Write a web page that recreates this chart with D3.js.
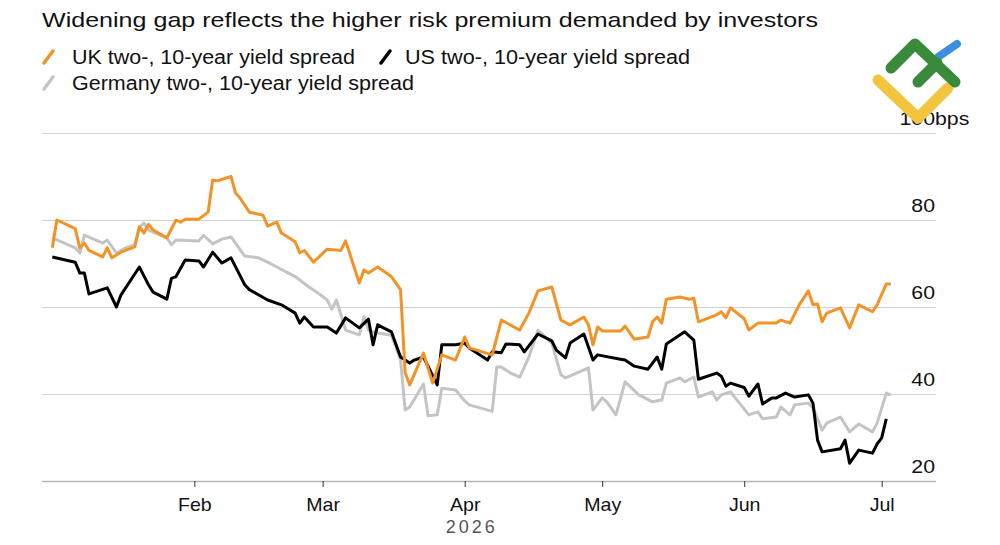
<!DOCTYPE html>
<html>
<head>
<meta charset="utf-8">
<script src="https://cdn.jsdelivr.net/npm/d3@7"></script>
<style>
  body { margin: 0; background: #fff; }
  svg { display: block; font-family: "Liberation Sans", Arial, sans-serif; }
</style>
</head>
<body>
<svg id="chart" width="1000" height="545"></svg>
<script>
var title = "Widening gap reflects the higher risk premium demanded by investors";
var seriesNames = ["UK two-, 10-year yield spread", "US two-, 10-year yield spread", "Germany two-, 10-year yield spread"];
var seriesColors = ["#f39326", "#000000", "#c4c4c4"];
var yTicks = [20, 40, 60, 80, 100];
var monthTicks = ["2026-02-01", "2026-03-01", "2026-04-01", "2026-05-01", "2026-06-01", "2026-07-01"];
var yearLabel = "2026";

// values, bps
var ukSpread = [
  ["2026-01-01", 73.6], ["2026-01-02", 80], ["2026-01-06", 78], ["2026-01-07", 73.6], ["2026-01-08", 74.7],
  ["2026-01-09", 73], ["2026-01-12", 71.5], ["2026-01-13", 73.6], ["2026-01-14", 71.3], ["2026-01-16", 72.6],
  ["2026-01-19", 73.8], ["2026-01-20", 78.4], ["2026-01-21", 77], ["2026-01-22", 79], ["2026-01-23", 77.7],
  ["2026-01-26", 75.9], ["2026-01-28", 80], ["2026-01-29", 79.5], ["2026-01-30", 80.2], ["2026-02-02", 80.2],
  ["2026-02-04", 81.8], ["2026-02-05", 89.2], ["2026-02-06", 89], ["2026-02-09", 90], ["2026-02-10", 86.2],
  ["2026-02-11", 85], ["2026-02-13", 81.8], ["2026-02-16", 81.1], ["2026-02-17", 78.6], ["2026-02-19", 79.5],
  ["2026-02-20", 77], ["2026-02-23", 75], ["2026-02-24", 72.4], ["2026-02-25", 73], ["2026-02-27", 70.3],
  ["2026-03-02", 73.3], ["2026-03-05", 73], ["2026-03-06", 75.2], ["2026-03-09", 65.5], ["2026-03-10", 68.5],
  ["2026-03-11", 67.8], ["2026-03-13", 69.2], ["2026-03-16", 67], ["2026-03-18", 64], ["2026-03-19", 44.9],
  ["2026-03-20", 42.1], ["2026-03-23", 49.4], ["2026-03-25", 42.5], ["2026-03-27", 49], ["2026-03-30", 47.8],
  ["2026-04-01", 53.1], ["2026-04-02", 50.6], ["2026-04-07", 49], ["2026-04-09", 57], ["2026-04-13", 54.7],
  ["2026-04-15", 58.6], ["2026-04-17", 63.7], ["2026-04-20", 64.6], ["2026-04-22", 57], ["2026-04-24", 55.9],
  ["2026-04-27", 57.7], ["2026-04-28", 55.9], ["2026-04-29", 51.3], ["2026-04-30", 55.4], ["2026-05-01", 54.5],
  ["2026-05-05", 54.5], ["2026-05-06", 55.6], ["2026-05-08", 52.6], ["2026-05-11", 53.1], ["2026-05-12", 56.6],
  ["2026-05-13", 57.7], ["2026-05-14", 56.3], ["2026-05-15", 61.8], ["2026-05-18", 62.3], ["2026-05-20", 61.8],
  ["2026-05-21", 62], ["2026-05-22", 56.6], ["2026-05-26", 58.2], ["2026-05-27", 58.9], ["2026-05-28", 57.5],
  ["2026-05-29", 59.8], ["2026-06-01", 57.3], ["2026-06-02", 54.7], ["2026-06-04", 56.3], ["2026-06-08", 56.3],
  ["2026-06-09", 57], ["2026-06-11", 56.3], ["2026-06-13", 60.5], ["2026-06-15", 63.7], ["2026-06-16", 60.5],
  ["2026-06-17", 60.7], ["2026-06-18", 56.6], ["2026-06-19", 58.6], ["2026-06-22", 59.8], ["2026-06-24", 55.2],
  ["2026-06-26", 60.5], ["2026-06-29", 58.9], ["2026-06-30", 60.5], ["2026-07-02", 65.3], ["2026-07-03", 65.3]
];

var usSpread = [
  ["2026-01-01", 71.5], ["2026-01-06", 70.3], ["2026-01-07", 67.8], ["2026-01-08", 67.8], ["2026-01-09", 63],
  ["2026-01-13", 64.4], ["2026-01-15", 60], ["2026-01-16", 62.8], ["2026-01-20", 69.2], ["2026-01-22", 65.1],
  ["2026-01-23", 63.4], ["2026-01-26", 61.8], ["2026-01-27", 66.6], ["2026-01-28", 67], ["2026-01-30", 70.8],
  ["2026-02-02", 70.6], ["2026-02-03", 69.2], ["2026-02-05", 72.6], ["2026-02-07", 70.1], ["2026-02-09", 71.3],
  ["2026-02-12", 65.1], ["2026-02-13", 64], ["2026-02-17", 61.6], ["2026-02-20", 60.5], ["2026-02-23", 58.6],
  ["2026-02-24", 56.3], ["2026-02-25", 57.7], ["2026-02-27", 55.4], ["2026-03-02", 55.4], ["2026-03-04", 54],
  ["2026-03-06", 57.5], ["2026-03-09", 55.2], ["2026-03-11", 57.2], ["2026-03-12", 51.3], ["2026-03-13", 55.9],
  ["2026-03-16", 54.3], ["2026-03-18", 48.5], ["2026-03-20", 47.1], ["2026-03-21", 47.8], ["2026-03-23", 48.5],
  ["2026-03-26", 42.1], ["2026-03-27", 51.3], ["2026-03-30", 51.3], ["2026-04-01", 51.7], ["2026-04-02", 50.6],
  ["2026-04-06", 47.8], ["2026-04-07", 49.7], ["2026-04-09", 49.5], ["2026-04-10", 51.5], ["2026-04-13", 51.3],
  ["2026-04-14", 49.7], ["2026-04-17", 53.8], ["2026-04-20", 52.2], ["2026-04-21", 50.1], ["2026-04-23", 48.3],
  ["2026-04-24", 51.7], ["2026-04-27", 53.8], ["2026-04-29", 47.8], ["2026-04-30", 49], ["2026-05-05", 48],
  ["2026-05-06", 47.8], ["2026-05-08", 46.4], ["2026-05-11", 45.7], ["2026-05-13", 48.5], ["2026-05-14", 45.7],
  ["2026-05-15", 51.5], ["2026-05-19", 54.3], ["2026-05-21", 52.4], ["2026-05-22", 43.4], ["2026-05-26", 44.8],
  ["2026-05-27", 44.1], ["2026-05-28", 41.8], ["2026-05-29", 42.5], ["2026-06-01", 41.5], ["2026-06-02", 39.5],
  ["2026-06-04", 42.3], ["2026-06-05", 37.7], ["2026-06-07", 39.1], ["2026-06-08", 39.1], ["2026-06-10", 40.2],
  ["2026-06-12", 39.3], ["2026-06-15", 39.8], ["2026-06-16", 37.9], ["2026-06-17", 29.4], ["2026-06-18", 26.7],
  ["2026-06-22", 27.4], ["2026-06-23", 29.4], ["2026-06-24", 24.1], ["2026-06-26", 27.1], ["2026-06-29", 26.4],
  ["2026-06-30", 28.5], ["2026-07-01", 29.9], ["2026-07-02", 34.3]
];

var deSpread = [
  ["2026-01-01", 75.9], ["2026-01-06", 73.6], ["2026-01-07", 72.4], ["2026-01-08", 76.5], ["2026-01-12", 74.7],
  ["2026-01-13", 75.4], ["2026-01-15", 72.4], ["2026-01-17", 73.6], ["2026-01-19", 74.3], ["2026-01-20", 78.4],
  ["2026-01-21", 79.3], ["2026-01-22", 77.7], ["2026-01-26", 75.9], ["2026-01-27", 74.3], ["2026-01-28", 75.4],
  ["2026-02-02", 75.2], ["2026-02-03", 76.5], ["2026-02-05", 74.5], ["2026-02-07", 75.6], ["2026-02-09", 76.1],
  ["2026-02-12", 71.7], ["2026-02-15", 71.3], ["2026-02-17", 70.3], ["2026-02-19", 69.2], ["2026-02-23", 67],
  ["2026-02-26", 64.6], ["2026-02-28", 63.2], ["2026-03-02", 61.6], ["2026-03-03", 59.5], ["2026-03-04", 61.6],
  ["2026-03-06", 54.7], ["2026-03-09", 53.6], ["2026-03-10", 57.7], ["2026-03-11", 54.7], ["2026-03-13", 54],
  ["2026-03-16", 53.5], ["2026-03-18", 47.8], ["2026-03-19", 36.3], ["2026-03-20", 37], ["2026-03-23", 42.3],
  ["2026-03-24", 35], ["2026-03-26", 35.2], ["2026-03-27", 41.3], ["2026-03-30", 40.9], ["2026-04-01", 38.4],
  ["2026-04-02", 37.5], ["2026-04-07", 36], ["2026-04-08", 46.2], ["2026-04-09", 46.2], ["2026-04-11", 44.8],
  ["2026-04-13", 43.9], ["2026-04-15", 48.5], ["2026-04-17", 54.7], ["2026-04-20", 51.7], ["2026-04-22", 44.4],
  ["2026-04-23", 43.7], ["2026-04-28", 46], ["2026-04-29", 36.3], ["2026-05-01", 39.1], ["2026-05-02", 38.2],
  ["2026-05-04", 35.2], ["2026-05-06", 42.8], ["2026-05-09", 39.8], ["2026-05-12", 38.2], ["2026-05-14", 38.6],
  ["2026-05-15", 42.5], ["2026-05-18", 43.7], ["2026-05-19", 42.8], ["2026-05-21", 43.9], ["2026-05-22", 39.3],
  ["2026-05-25", 40.5], ["2026-05-26", 38.6], ["2026-05-27", 39.8], ["2026-05-29", 40.5], ["2026-06-02", 35.2],
  ["2026-06-04", 35.9], ["2026-06-05", 34.3], ["2026-06-08", 34.7], ["2026-06-09", 37], ["2026-06-11", 35.2],
  ["2026-06-12", 37.5], ["2026-06-15", 37.9], ["2026-06-16", 36.8], ["2026-06-18", 31.7], ["2026-06-19", 33.3],
  ["2026-06-22", 34.7], ["2026-06-24", 31.3], ["2026-06-26", 33.1], ["2026-06-29", 31.3], ["2026-06-30", 33.3],
  ["2026-07-02", 40.2], ["2026-07-03", 39.8]
];

var parse = d3.utcParse("%Y-%m-%d");
var svg = d3.select("#chart");

var gridLeft = 42, gridRight = 936;
var x = d3.scaleUtc()
  .domain([parse("2026-01-01"), parse("2026-07-01")])
  .range([52.3, 881.7]);
var y = d3.scaleLinear().domain([20, 100]).range([481, 133]);

// title + legend (the source type is set a little wider than Arial)
svg.append("text")
  .attr("x", 42).attr("y", 27)
  .attr("font-size", 21).attr("fill", "#111")
  .attr("textLength", 776).attr("lengthAdjust", "spacingAndGlyphs")
  .text(title);

var legendPos = [[43, 64], [380, 64], [43, 90]];
var legendWidths = [283, 285, 342];
seriesNames.forEach(function(name, i) {
  var p = legendPos[i];
  svg.append("line")
    .attr("x1", p[0] + 1).attr("y1", p[1] - 1)
    .attr("x2", p[0] + 10).attr("y2", p[1] - 13)
    .attr("stroke", seriesColors[i]).attr("stroke-width", 3.5)
    .attr("stroke-linecap", "round");
  svg.append("text")
    .attr("x", p[0] + (i == 1 ? 25 : 29)).attr("y", p[1])
    .attr("font-size", 19.5).attr("fill", "#111")
    .attr("textLength", legendWidths[i]).attr("lengthAdjust", "spacingAndGlyphs")
    .text(name);
});

// gridlines and y labels
var grid = svg.append("g");
grid.selectAll("line")
  .data(yTicks)
  .enter().append("line")
  .attr("x1", gridLeft).attr("x2", gridRight)
  .attr("y1", function(d) { return y(d) + 0.5; })
  .attr("y2", function(d) { return y(d) + 0.5; })
  .attr("stroke", function(d) { return d == 20 ? "#b5b5b5" : "#d2d2d2"; })
  .attr("stroke-width", function(d) { return d == 20 ? 1.5 : 1; });

var yLab = grid.selectAll("g.ylab")
  .data(yTicks)
  .enter().append("g")
  .attr("class", "ylab")
  .attr("transform", function(d) { return "translate(935," + (y(d) - 8) + ") scale(1.15,1)"; })
  .attr("font-size", 18.5).attr("fill", "#111");
yLab.append("text")
  .attr("text-anchor", "end")
  .text(function(d) { return d; });
yLab.filter(function(d) { return d == 100; })
  .append("text")
  .text("bps");

// x axis
var xAxis = d3.axisBottom(x)
  .tickValues(monthTicks.map(parse))
  .tickFormat(d3.utcFormat("%b"))
  .tickSize(6)
  .tickPadding(11);

var gx = svg.append("g")
  .attr("transform", "translate(0," + 481 + ")")
  .call(xAxis);
gx.select(".domain").remove();
gx.selectAll(".tick line").attr("stroke", "#333");
gx.selectAll(".tick text")
  .attr("font-size", 18.5).attr("fill", "#111")
  .attr("font-family", "Liberation Sans, Arial, sans-serif")
  .attr("transform", "scale(1.06,1)");

svg.append("text")
  .attr("x", x(parse(monthTicks[2])) + 7).attr("y", 533)
  .attr("text-anchor", "middle")
  .attr("font-size", 18).attr("fill", "#555")
  .attr("letter-spacing", 3)
  .text(yearLabel);

// lines, grey first so orange sits on top
var line = d3.line()
  .x(function(d) { return x(parse(d[0])); })
  .y(function(d) { return y(d[1]); });

[[deSpread, 2], [usSpread, 1], [ukSpread, 0]].forEach(function(s) {
  svg.append("path")
    .datum(s[0])
    .attr("fill", "none")
    .attr("stroke", seriesColors[s[1]])
    .attr("stroke-width", 3)
    .attr("stroke-linejoin", "round")
    .attr("d", line);
});

// watermark logo in the corner
var logo = svg.append("g").attr("fill", "none").attr("stroke-linecap", "round").attr("stroke-linejoin", "round");
logo.append("path").attr("d", "M878,80 L918,118 L948,88").attr("stroke", "#f2c53d").attr("stroke-width", 11);
logo.append("path").attr("d", "M938,57 L957,44").attr("stroke", "#3b8fdc").attr("stroke-width", 8);
logo.append("path").attr("d", "M891,68 L915,44 L955,82").attr("stroke", "#3a8a3c").attr("stroke-width", 11);
logo.append("path").attr("d", "M918,82 L937,63").attr("stroke", "#3a8a3c").attr("stroke-width", 11);
</script>
</body>
</html>
